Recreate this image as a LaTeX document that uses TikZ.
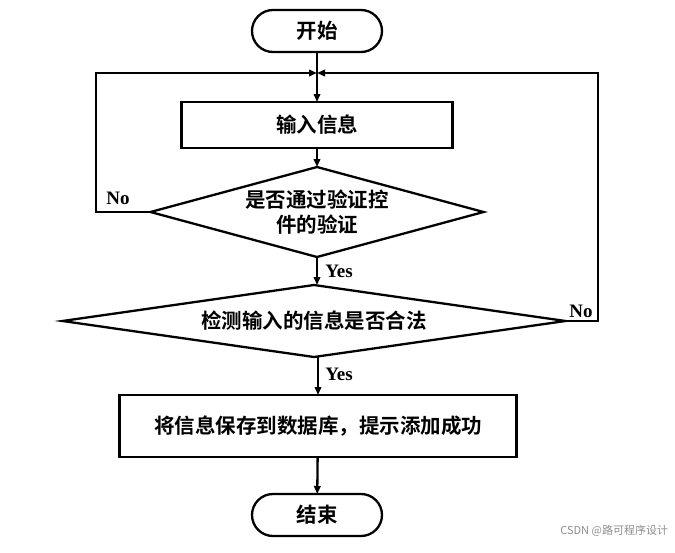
\documentclass[tikz,border=0pt]{standalone}
\usepackage{fontspec}
\newfontfamily\cjk{Noto Sans CJK SC}[BoldFont={Noto Sans CJK SC Bold}]
\newfontfamily\latin{Liberation Serif}
\usetikzlibrary{shapes.geometric,arrows.meta}
\begin{document}
\begin{tikzpicture}[x=1pt,y=-1pt,
  every node/.style={inner sep=0pt, outer sep=0pt},
  base/.style={draw, line width=2.3pt, font=\cjk\bfseries\fontsize{20.5}{25}\selectfont, align=center},
  term/.style={base, rounded corners=21pt, minimum width=130pt, minimum height=42pt},
  proc/.style={base, rectangle},
  dec/.style={base, diamond},
  conn/.style={line width=2.3pt, -{Triangle[length=8pt,width=6.5pt]}},
  lbl/.style={font=\latin\bfseries\fontsize{19}{21}\selectfont, inner sep=0pt}]
\useasboundingbox (0,0) rectangle (675,552);
\node[term] (start) at (317,31) {开始};
\node[proc, minimum width=271pt, minimum height=46pt] (in1) at (317,125) {输入信息};
\node[dec, minimum width=333pt, minimum height=90pt, aspect=3.7] (d1) at (317,212) {是否通过验证控\\件的验证};
\node[dec, minimum width=503pt, minimum height=72pt, aspect=7] (d2) at (314,321) {检测输入的信息是否合法};
\node[proc, minimum width=397pt, minimum height=62pt] (save) at (318,426) {将信息保存到数据库，提示添加成功};
\node[term] (end) at (317,515) {结束};
\coordinate (m) at (317,73);
\coordinate (lj) at (96,73);
\coordinate (rj) at (598,73);
\draw[conn] (start) -- (in1);
\draw[conn] (in1) -- (d1);
\draw[conn] (d1) -- (d2.north -| d1.south);
\draw[conn] (d2.south -| save.north) -- (save);
\draw[conn] (save) -- (end);
\draw[conn, line join=miter] (d1.west) -| (lj) -- (m);
\draw[conn, line join=miter] (d2.east) -| (rj) -- (m);
\node[lbl] (no1) at (118,198) {No};
\node[lbl] (no2) at (581,311) {No};
\node[lbl] (yes1) at (339,271) {Yes};
\node[lbl] (yes2) at (339,374) {Yes};
\node[font=\cjk\fontsize{11}{13}\selectfont, text=black!45, anchor=east] (wm) at (668,531) {CSDN @路可程序设计};
\end{tikzpicture}
\end{document}
